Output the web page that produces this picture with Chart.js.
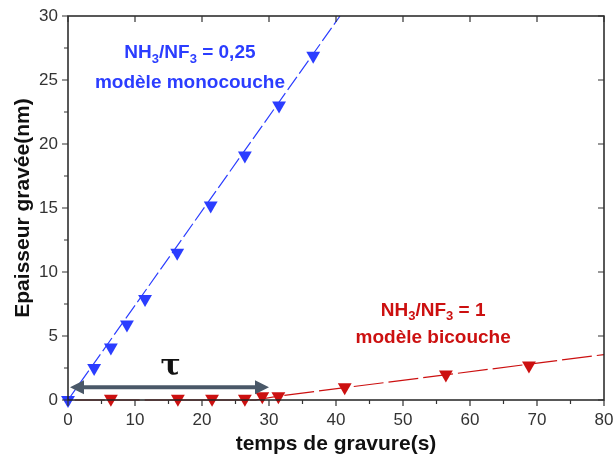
<!DOCTYPE html>
<html>
<head>
<meta charset="utf-8">
<script src="https://cdn.jsdelivr.net/npm/chart.js@4/dist/chart.umd.min.js"></script>
<style>
  html, body { margin: 0; padding: 0; background: #fff; }
  #wrap { width: 614px; height: 466px; }
</style>
</head>
<body>
<div id="wrap"><canvas id="grafico" width="614" height="466"></canvas></div>
<script>
// temps (s) / epaisseur (nm)
const tempsMono = [0, 3.9, 6.4, 8.8, 11.5, 16.3, 21.3, 26.4, 31.5, 36.6];
const epaisseurMono = [0, 2.5, 4.1, 5.9, 7.9, 11.5, 15.2, 19.1, 23.0, 26.9];
const fitMonoX = [0, 40.6];
const fitMonoY = [0, 30];

const tempsBi = [6.4, 16.4, 21.5, 26.4, 29.0, 31.4, 41.3, 56.4, 68.8];
const epaisseurBi = [0.1, 0.1, 0.1, 0.1, 0.3, 0.3, 1.0, 2.0, 2.7];
const fitBiX = [1, 28, 31.4, 80];
const fitBiY = [0, 0, 0.3, 3.55];

const xTicks = [0, 10, 20, 30, 40, 50, 60, 70, 80];
const yTicks = [0, 5, 10, 15, 20, 25, 30];

const bleu = "#2b3dff";
const rouge = "#cc1010";

function points(xs, ys) {
    return xs.map((x, i) => ({ x: x, y: ys[i] }));
}

// fleche tau
const flecheDebut = 0.3;
const flecheFin = 30;
const flecheY = 1.0;

const annotations = [
    { x: 18.2, y: 27.1, parts: [["NH", 0], ["3", 1], ["/NF", 0], ["3", 1], [" = 0,25", 0]], color: bleu },
    { x: 18.2, y: 24.8, parts: [["modèle monocouche", 0]], color: bleu },
    { x: 54.5, y: 7.0, parts: [["NH", 0], ["3", 1], ["/NF", 0], ["3", 1], [" = 1", 0]], color: rouge },
    { x: 54.5, y: 4.85, parts: [["modèle bicouche", 0]], color: rouge }
];

const police = "'Liberation Sans', Arial, sans-serif";

const dessinPlugin = {
    id: "dessin",
    afterDatasetsDraw(chart) {
        const ctx = chart.ctx;
        const xs = chart.scales.x;
        const ys = chart.scales.y;
        const a = chart.chartArea;
        ctx.save();

        // cadre
        ctx.strokeStyle = "#222";
        ctx.lineWidth = 1.5;
        ctx.strokeRect(a.left, a.top, a.right - a.left, a.bottom - a.top);

        // graduations
        ctx.lineWidth = 1.2;
        ctx.strokeStyle = "#333";
        ctx.beginPath();
        for (let v = 0; v <= 80; v += 5) {
            const px = xs.getPixelForValue(v);
            const major = v % 10 === 0;
            ctx.moveTo(px, a.bottom);
            ctx.lineTo(px, a.bottom + (major ? 6 : 4));
            if (major) {
                ctx.moveTo(px, a.top);
                ctx.lineTo(px, a.top + 6);
            }
        }
        for (let v = 0; v <= 30; v += 2.5) {
            const py = ys.getPixelForValue(v);
            const major = v % 5 === 0;
            ctx.moveTo(a.left, py);
            ctx.lineTo(a.left - (major ? 6 : 4), py);
            if (major) {
                ctx.moveTo(a.right, py);
                ctx.lineTo(a.right - 6, py);
            }
        }
        ctx.stroke();

        // fleche
        const x1 = xs.getPixelForValue(flecheDebut);
        const x2 = xs.getPixelForValue(flecheFin);
        const y = ys.getPixelForValue(flecheY);
        ctx.strokeStyle = "#4a5868";
        ctx.fillStyle = "#4a5868";
        ctx.lineWidth = 4;
        ctx.beginPath();
        ctx.moveTo(x1 + 10, y);
        ctx.lineTo(x2 - 10, y);
        ctx.stroke();
        ctx.beginPath();
        ctx.moveTo(x1, y);
        ctx.lineTo(x1 + 14, y - 7);
        ctx.lineTo(x1 + 14, y + 7);
        ctx.closePath();
        ctx.fill();
        ctx.beginPath();
        ctx.moveTo(x2, y);
        ctx.lineTo(x2 - 14, y - 7);
        ctx.lineTo(x2 - 14, y + 7);
        ctx.closePath();
        ctx.fill();

        // tau
        ctx.fillStyle = "#111";
        ctx.font = "bold 30px 'DejaVu Serif', 'Liberation Serif', serif";
        ctx.textAlign = "center";
        ctx.textBaseline = "middle";
        ctx.fillText("τ", xs.getPixelForValue(15.3), ys.getPixelForValue(2.6));

        // textes
        ctx.textBaseline = "middle";
        ctx.textAlign = "left";
        annotations.forEach(an => {
            let largeur = 0;
            an.parts.forEach(p => {
                ctx.font = p[1] ? "bold 13px " + police : "bold 19px " + police;
                largeur += ctx.measureText(p[0]).width;
            });
            let cx = xs.getPixelForValue(an.x) - largeur / 2;
            const cy = ys.getPixelForValue(an.y);
            ctx.fillStyle = an.color;
            an.parts.forEach(p => {
                ctx.font = p[1] ? "bold 13px " + police : "bold 19px " + police;
                ctx.fillText(p[0], cx, cy + (p[1] ? 6 : 0));
                cx += ctx.measureText(p[0]).width;
            });
        });
        ctx.restore();
    }
};

new Chart(document.getElementById("grafico"), {
    type: "scatter",
    data: {
        datasets: [
            {
                data: points(fitMonoX, fitMonoY),
                showLine: true,
                borderColor: bleu,
                borderWidth: 1.2,
                borderDash: [16, 4],
                pointRadius: 0
            },
            {
                data: points(tempsMono, epaisseurMono),
                pointStyle: "triangle",
                rotation: 180,
                pointRadius: 8,
                backgroundColor: bleu,
                borderColor: bleu,
                borderWidth: 0
            },
            {
                data: points(fitBiX, fitBiY),
                showLine: true,
                borderColor: rouge,
                borderWidth: 1.2,
                borderDash: [30, 5],
                pointRadius: 0
            },
            {
                data: points(tempsBi, epaisseurBi),
                pointStyle: "triangle",
                rotation: 180,
                pointRadius: 8,
                backgroundColor: rouge,
                borderColor: rouge,
                borderWidth: 0
            }
        ]
    },
    options: {
        responsive: false,
        animation: false,
        clip: false,
        layout: { padding: { top: 16, right: 10, left: 0, bottom: 0 } },
        plugins: { legend: { display: false }, tooltip: { enabled: false } },
        scales: {
            x: {
                type: "linear",
                min: 0,
                max: 80,
                afterBuildTicks: s => { s.ticks = xTicks.map(v => ({ value: v })); },
                afterFit: s => { s.height = 66; s.paddingLeft = 0; s.paddingRight = 0; },
                grid: { display: false, drawTicks: false },
                border: { display: false },
                ticks: { color: "#333", font: { family: police, size: 17 }, padding: 10, maxRotation: 0 },
                title: { display: true, text: "temps de gravure(s)", color: "#111", font: { family: police, size: 21, weight: "bold" }, padding: { top: 2, bottom: 9 } }
            },
            y: {
                type: "linear",
                min: 0,
                max: 30,
                afterBuildTicks: s => { s.ticks = yTicks.map(v => ({ value: v })); },
                afterFit: s => { s.width = 68; s.paddingTop = 0; s.paddingBottom = 0; },
                grid: { display: false, drawTicks: false },
                border: { display: false },
                ticks: { color: "#333", font: { family: police, size: 17 }, padding: 10 },
                title: { display: true, text: "Epaisseur gravée(nm)", color: "#111", font: { family: police, size: 21, weight: "bold" }, padding: { top: 11, bottom: 2 } }
            }
        }
    },
    plugins: [dessinPlugin]
});
</script>
</body>
</html>
